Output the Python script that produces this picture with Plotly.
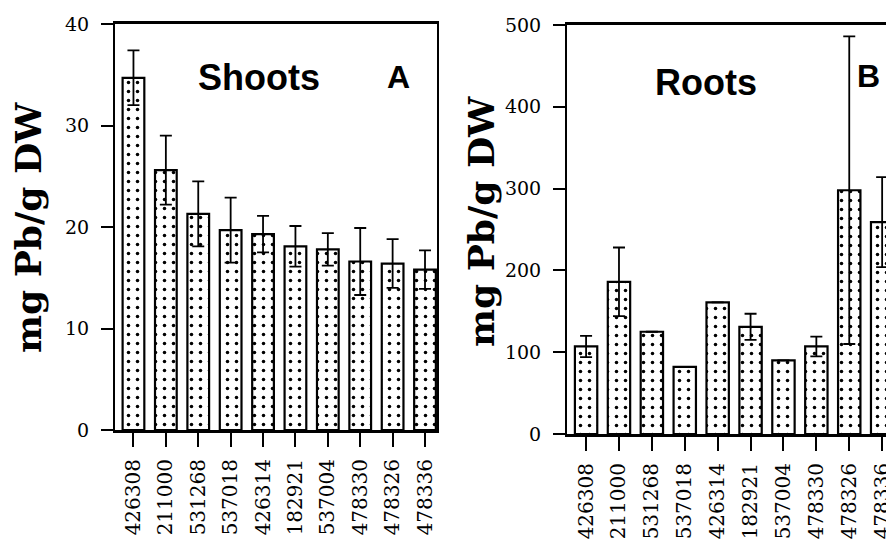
import plotly.graph_objects as go

categories = ["426308", "211000", "531268", "537018", "426314",
              "182921", "537004", "478330", "478326", "478336"]
shoots_mean = [34.7, 25.6, 21.3, 19.7, 19.3, 18.1, 17.8, 16.6, 16.4, 15.8]
shoots_err = [2.7, 3.4, 3.2, 3.2, 1.8, 2.0, 1.6, 3.3, 2.4, 1.9]
roots_mean = [107, 186, 125, 82, 161, 131, 90, 107, 298, 259]
roots_err = [13, 42, 0, 0, 0, 16, 0, 12, 188, 55]
shoots_ticks = [0, 10, 20, 30, 40]
roots_ticks = [0, 100, 200, 300, 400, 500]

W, H = 894, 539
OFF = 8  # page body margin offset
def px(x):
    return (x - OFF) / W
def py(y):
    return (H - (y - OFF)) / H

pattern = dict(shape=".", fgcolor="black", bgcolor="white", size=9, solidity=0.12)

fig = go.Figure()
fig.add_trace(go.Bar(
    x=categories, y=shoots_mean, xaxis="x", yaxis="y", width=0.67,
    marker=dict(color="white", line=dict(color="black", width=2.2), pattern=pattern),
    error_y=dict(type="data", array=shoots_err, visible=True, color="black", thickness=1.8, width=6),
    showlegend=False))
fig.add_trace(go.Bar(
    x=categories, y=roots_mean, xaxis="x2", yaxis="y2", width=0.68,
    marker=dict(color="white", line=dict(color="black", width=2.2), pattern=pattern),
    error_y=dict(type="data", array=roots_err, visible=True, color="black", thickness=1.8, width=6),
    showlegend=False))

tickfont = dict(family="DejaVu Serif", size=20, color="black")
xcommon = dict(type="category", showline=True, linecolor="black", linewidth=3, mirror=True,
               ticks="outside", ticklen=14, tickwidth=2, tickcolor="black",
               tickangle=-90, tickfont=tickfont, showgrid=False, zeroline=False,
               ticklabelstandoff=4, automargin=False)
ycommon = dict(showline=True, linecolor="black", linewidth=2, mirror=True,
               ticks="outside", ticklen=12, tickwidth=2, tickcolor="black",
               tickfont=dict(family="DejaVu Serif", size=19, color="black"),
               showgrid=False, zeroline=False, ticklabelstandoff=8, automargin=False)

ylab_font = dict(family="DejaVu Serif", size=36, color="black", weight="bold")
big_font = dict(family="Liberation Sans", size=36, color="black", weight="bold")

fig.update_layout(
    template="none",
    width=W, height=H, margin=dict(l=0, r=0, t=0, b=0, pad=0), autosize=False,
    paper_bgcolor="white", plot_bgcolor="white", bargap=0.3,
    xaxis=dict(domain=[px(115), px(437)], anchor="y", range=[-0.57, 9.37], **xcommon),
    yaxis=dict(domain=[py(430), py(24)], anchor="x", range=[0, 40], tickvals=shoots_ticks, **ycommon),
    xaxis2=dict(domain=[px(567), px(893)], anchor="y2", range=[-0.58, 9.33], **xcommon),
    yaxis2=dict(domain=[py(434), py(25)], anchor="x2", range=[0, 500], tickvals=roots_ticks, **ycommon),
    annotations=[
        dict(text="mg Pb/g DW", textangle=-90, x=px(28), y=py(228), xref="paper", yref="paper",
             xanchor="center", yanchor="middle", showarrow=False, font=ylab_font),
        dict(text="mg Pb/g DW", textangle=-90, x=px(481), y=py(222), xref="paper", yref="paper",
             xanchor="center", yanchor="middle", showarrow=False, font=ylab_font),
        dict(text="Shoots", x=px(259), y=py(77), xref="paper", yref="paper", showarrow=False,
             xanchor="center", yanchor="middle", font=big_font),
        dict(text="A", x=px(398), y=py(77), xref="paper", yref="paper", showarrow=False,
             xanchor="center", yanchor="middle", font=dict(big_font, size=32)),
        dict(text="Roots", x=px(706), y=py(83), xref="paper", yref="paper", showarrow=False,
             xanchor="center", yanchor="middle", font=big_font),
        dict(text="B", x=px(868), y=py(76), xref="paper", yref="paper", showarrow=False,
             xanchor="center", yanchor="middle", font=dict(big_font, size=32)),
    ],
)

fig.write_html("out.html")
